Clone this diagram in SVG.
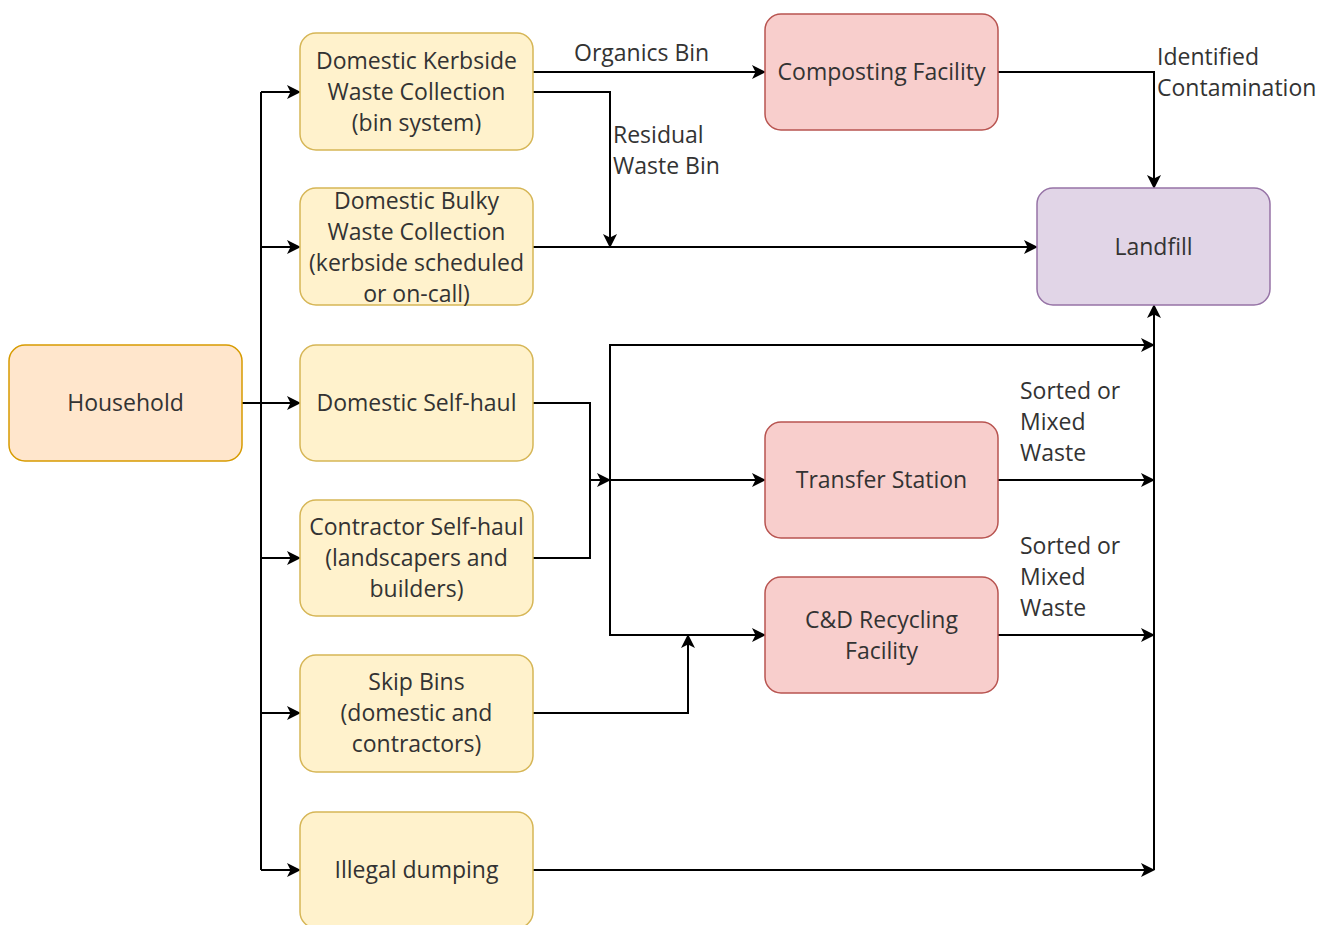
<svg xmlns="http://www.w3.org/2000/svg" width="1330" height="925" viewBox="0 0 1330 925">
<defs>
<style>
.n{stroke-width:1.5}
.hh{fill:#ffe6cc;stroke:#d79b00}
.y{fill:#fff2cc;stroke:#d6b656}
.r{fill:#f8cecc;stroke:#b85450}
.p{fill:#e1d5e7;stroke:#9673a6}
text{font-family:"Open Sans","Noto Sans",sans-serif;font-size:23px;fill:#333333}
.c{text-anchor:middle}
.e{fill:none;stroke:#000;stroke-width:2;marker-end:url(#a)}
.l{fill:none;stroke:#000;stroke-width:2}
</style>
<marker id="a" markerWidth="14" markerHeight="14" refX="12" refY="7" orient="auto" markerUnits="userSpaceOnUse">
<path d="M0,0 L14,7 L0,14 L3.5,7 Z" fill="#000"/>
</marker>
</defs>
<rect width="1330" height="925" fill="#ffffff"/>
<g id="connectors">
<path class="l" d="M242,403 H261 M261,92 V870"/>
<path class="e" d="M261,92 H299"/>
<path class="e" d="M261,247 H299"/>
<path class="e" d="M261,403 H299"/>
<path class="e" d="M261,558 H299"/>
<path class="e" d="M261,713 H299"/>
<path class="e" d="M261,870 H299"/>
<path class="e" d="M533,72 H764"/>
<path class="e" d="M533,92 H610 V246"/>
<path class="e" d="M533,247 H1036"/>
<path class="e" d="M998,72 H1154 V187"/>
<path class="l" d="M533,403 H590 V558 H533"/>
<path class="e" d="M590,480 H609"/>
<path class="e" d="M610,480 H764"/>
<path class="e" d="M610,480 V345 H1153"/>
<path class="e" d="M610,480 V635 H764"/>
<path class="e" d="M533,713 H688 V636"/>
<path class="e" d="M998,480 H1153"/>
<path class="e" d="M998,635 H1153"/>
<path class="e" d="M533,870 H1153"/>
<path class="e" d="M1154,870 V306"/>
<text x="574" y="61">Organics Bin</text>
<text x="613" y="143">Residual</text>
<text x="613" y="174">Waste Bin</text>
<text x="1157" y="65">Identified</text>
<text x="1157" y="96">Contamination</text>
<text x="1020" y="399">Sorted or</text>
<text x="1020" y="430">Mixed</text>
<text x="1020" y="461">Waste</text>
<text x="1020" y="554">Sorted or</text>
<text x="1020" y="585">Mixed</text>
<text x="1020" y="616">Waste</text>
</g>
<g id="household"><rect class="n hh" x="9" y="345" width="233" height="116" rx="16"/><text class="c" x="125.5" y="411">Household</text></g>
<g id="kerbside"><rect class="n y" x="300" y="33" width="233" height="117" rx="16"/><text class="c" x="416.5" y="69">Domestic Kerbside</text><text class="c" x="416.5" y="100">Waste Collection</text><text class="c" x="416.5" y="131">(bin system)</text></g>
<g id="bulky"><rect class="n y" x="300" y="188" width="233" height="117" rx="16"/><text class="c" x="416.5" y="209">Domestic Bulky</text><text class="c" x="416.5" y="240">Waste Collection</text><text class="c" x="416.5" y="271">(kerbside scheduled</text><text class="c" x="416.5" y="302">or on-call)</text></g>
<g id="selfhaul"><rect class="n y" x="300" y="345" width="233" height="116" rx="16"/><text class="c" x="416.5" y="411">Domestic Self-haul</text></g>
<g id="contractor"><rect class="n y" x="300" y="500" width="233" height="116" rx="16"/><text class="c" x="416.5" y="535">Contractor Self-haul</text><text class="c" x="416.5" y="566">(landscapers and</text><text class="c" x="416.5" y="597">builders)</text></g>
<g id="skip"><rect class="n y" x="300" y="655" width="233" height="117" rx="16"/><text class="c" x="416.5" y="690">Skip Bins</text><text class="c" x="416.5" y="721">(domestic and</text><text class="c" x="416.5" y="752">contractors)</text></g>
<g id="illegal"><rect class="n y" x="300" y="812" width="233" height="116" rx="16"/><text class="c" x="416.5" y="878">Illegal dumping</text></g>
<g id="composting"><rect class="n r" x="765" y="14" width="233" height="116" rx="16"/><text class="c" x="881.5" y="80">Composting Facility</text></g>
<g id="landfill"><rect class="n p" x="1037" y="188" width="233" height="117" rx="16"/><text class="c" x="1153.5" y="255">Landfill</text></g>
<g id="transfer"><rect class="n r" x="765" y="422" width="233" height="116" rx="16"/><text class="c" x="881.5" y="488">Transfer Station</text></g>
<g id="cnd"><rect class="n r" x="765" y="577" width="233" height="116" rx="16"/><text class="c" x="881.5" y="628">C&amp;D Recycling</text><text class="c" x="881.5" y="659">Facility</text></g>
</svg>
